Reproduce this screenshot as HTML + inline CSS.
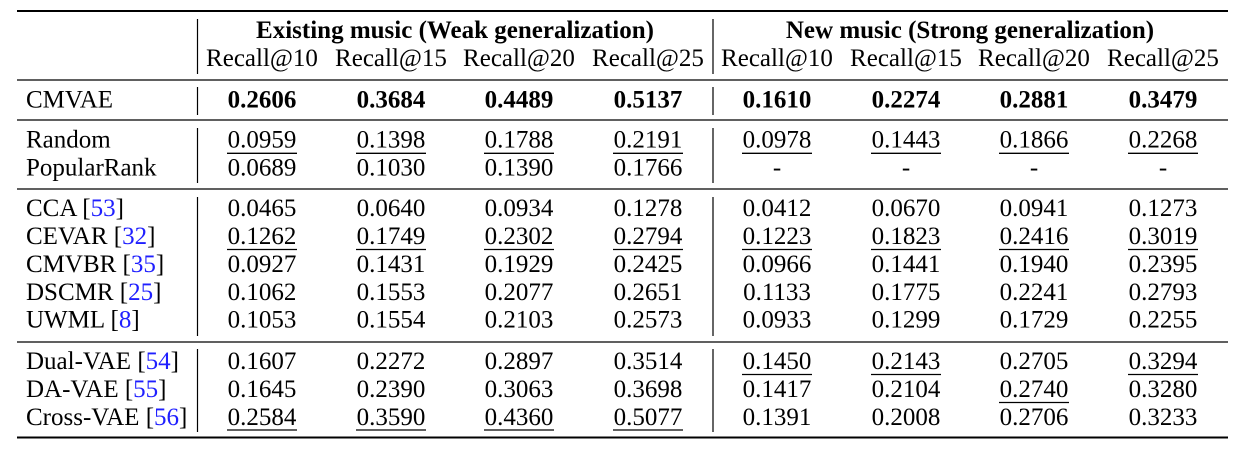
<!DOCTYPE html>
<html><head><meta charset="utf-8"><style>
html,body{margin:0;padding:0;background:#fff;}
svg{display:block;}
text{font-family:"Liberation Serif","Times New Roman",serif;font-size:25px;fill:#000;}
.b{font-weight:bold;}
.c{text-anchor:middle;}
.bl{fill:#1f1fff;}
</style></head><body>
<svg width="1240" height="450" viewBox="0 0 1240 450" xmlns="http://www.w3.org/2000/svg">
<g stroke="#000" fill="none">
<line x1="17" y1="11" x2="1228" y2="11" stroke-width="2"/>
<line x1="17" y1="80" x2="1228" y2="80" stroke-width="1.3"/>
<line x1="17" y1="120" x2="1228" y2="120" stroke-width="1.3"/>
<line x1="17" y1="189" x2="1228" y2="189" stroke-width="1.3"/>
<line x1="17" y1="342" x2="1228" y2="342" stroke-width="1.3"/>
<line x1="17" y1="437.5" x2="1228" y2="437.5" stroke-width="2"/>
<g stroke-width="1.2">
<line x1="197.5" y1="19" x2="197.5" y2="74"/><line x1="713" y1="19" x2="713" y2="74"/>
<line x1="197.5" y1="87" x2="197.5" y2="115"/><line x1="713" y1="87" x2="713" y2="115"/>
<line x1="197.5" y1="128" x2="197.5" y2="183"/><line x1="713" y1="128" x2="713" y2="183"/>
<line x1="197.5" y1="197" x2="197.5" y2="336"/><line x1="713" y1="197" x2="713" y2="336"/>
<line x1="197.5" y1="349" x2="197.5" y2="432"/><line x1="713" y1="349" x2="713" y2="432"/>
</g>
<g stroke-width="1.3">
<!-- Random -->
<line x1="227" y1="153.3" x2="297" y2="153.3"/><line x1="356" y1="153.3" x2="426" y2="153.3"/><line x1="484" y1="153.3" x2="554" y2="153.3"/><line x1="613" y1="153.3" x2="683" y2="153.3"/>
<line x1="742" y1="153.3" x2="812" y2="153.3"/><line x1="871" y1="153.3" x2="941" y2="153.3"/><line x1="999" y1="153.3" x2="1069" y2="153.3"/><line x1="1128" y1="153.3" x2="1198" y2="153.3"/>
<!-- CEVAR -->
<line x1="227" y1="249.5" x2="297" y2="249.5"/><line x1="356" y1="249.5" x2="426" y2="249.5"/><line x1="484" y1="249.5" x2="554" y2="249.5"/><line x1="613" y1="249.5" x2="683" y2="249.5"/>
<line x1="742" y1="249.5" x2="812" y2="249.5"/><line x1="871" y1="249.5" x2="941" y2="249.5"/><line x1="999" y1="249.5" x2="1069" y2="249.5"/><line x1="1128" y1="249.5" x2="1198" y2="249.5"/>
<!-- Dual-VAE -->
<line x1="742" y1="374.5" x2="812" y2="374.5"/><line x1="871" y1="374.5" x2="941" y2="374.5"/><line x1="1128" y1="374.5" x2="1198" y2="374.5"/>
<!-- DA-VAE -->
<line x1="999" y1="402.5" x2="1069" y2="402.5"/>
<!-- Cross-VAE -->
<line x1="227" y1="430" x2="297" y2="430"/><line x1="356" y1="430" x2="426" y2="430"/><line x1="484" y1="430" x2="554" y2="430"/><line x1="613" y1="430" x2="683" y2="430"/>
</g>
</g>

<text class="b c" x="455" y="38">Existing music (Weak generalization)</text>
<text class="b c" x="970" y="38">New music (Strong generalization)</text>
<text class="c" x="262" y="66">Recall@10</text><text class="c" x="391" y="66">Recall@15</text><text class="c" x="519" y="66">Recall@20</text><text class="c" x="648" y="66">Recall@25</text>
<text class="c" x="777" y="66">Recall@10</text><text class="c" x="906" y="66">Recall@15</text><text class="c" x="1034" y="66">Recall@20</text><text class="c" x="1163" y="66">Recall@25</text>

<text x="26" y="107.3">CMVAE</text>
<g class="b c">
<text class="b c" x="262" y="107.3">0.2606</text><text class="b c" x="391" y="107.3">0.3684</text><text class="b c" x="519" y="107.3">0.4489</text><text class="b c" x="648" y="107.3">0.5137</text>
<text class="b c" x="777" y="107.3">0.1610</text><text class="b c" x="906" y="107.3">0.2274</text><text class="b c" x="1034" y="107.3">0.2881</text><text class="b c" x="1163" y="107.3">0.3479</text>
</g>

<text x="26" y="147.5">Random</text>
<text class="c" x="262" y="147.5">0.0959</text><text class="c" x="391" y="147.5">0.1398</text><text class="c" x="519" y="147.5">0.1788</text><text class="c" x="648" y="147.5">0.2191</text>
<text class="c" x="777" y="147.5">0.0978</text><text class="c" x="906" y="147.5">0.1443</text><text class="c" x="1034" y="147.5">0.1866</text><text class="c" x="1163" y="147.5">0.2268</text>

<text x="26" y="175.7">PopularRank</text>
<text class="c" x="262" y="175.7">0.0689</text><text class="c" x="391" y="175.7">0.1030</text><text class="c" x="519" y="175.7">0.1390</text><text class="c" x="648" y="175.7">0.1766</text>
<text class="c" x="777" y="175.7">-</text><text class="c" x="906" y="175.7">-</text><text class="c" x="1034" y="175.7">-</text><text class="c" x="1163" y="175.7">-</text>

<text x="26" y="216">CCA [<tspan class="bl">53</tspan>]</text>
<text class="c" x="262" y="216">0.0465</text><text class="c" x="391" y="216">0.0640</text><text class="c" x="519" y="216">0.0934</text><text class="c" x="648" y="216">0.1278</text>
<text class="c" x="777" y="216">0.0412</text><text class="c" x="906" y="216">0.0670</text><text class="c" x="1034" y="216">0.0941</text><text class="c" x="1163" y="216">0.1273</text>

<text x="26" y="244">CEVAR [<tspan class="bl">32</tspan>]</text>
<text class="c" x="262" y="244">0.1262</text><text class="c" x="391" y="244">0.1749</text><text class="c" x="519" y="244">0.2302</text><text class="c" x="648" y="244">0.2794</text>
<text class="c" x="777" y="244">0.1223</text><text class="c" x="906" y="244">0.1823</text><text class="c" x="1034" y="244">0.2416</text><text class="c" x="1163" y="244">0.3019</text>

<text x="26" y="272">CMVBR [<tspan class="bl">35</tspan>]</text>
<text class="c" x="262" y="272">0.0927</text><text class="c" x="391" y="272">0.1431</text><text class="c" x="519" y="272">0.1929</text><text class="c" x="648" y="272">0.2425</text>
<text class="c" x="777" y="272">0.0966</text><text class="c" x="906" y="272">0.1441</text><text class="c" x="1034" y="272">0.1940</text><text class="c" x="1163" y="272">0.2395</text>

<text x="26" y="300">DSCMR [<tspan class="bl">25</tspan>]</text>
<text class="c" x="262" y="300">0.1062</text><text class="c" x="391" y="300">0.1553</text><text class="c" x="519" y="300">0.2077</text><text class="c" x="648" y="300">0.2651</text>
<text class="c" x="777" y="300">0.1133</text><text class="c" x="906" y="300">0.1775</text><text class="c" x="1034" y="300">0.2241</text><text class="c" x="1163" y="300">0.2793</text>

<text x="26" y="327.7">UWML [<tspan class="bl">8</tspan>]</text>
<text class="c" x="262" y="327.7">0.1053</text><text class="c" x="391" y="327.7">0.1554</text><text class="c" x="519" y="327.7">0.2103</text><text class="c" x="648" y="327.7">0.2573</text>
<text class="c" x="777" y="327.7">0.0933</text><text class="c" x="906" y="327.7">0.1299</text><text class="c" x="1034" y="327.7">0.1729</text><text class="c" x="1163" y="327.7">0.2255</text>

<text x="26" y="369">Dual-VAE [<tspan class="bl">54</tspan>]</text>
<text class="c" x="262" y="369">0.1607</text><text class="c" x="391" y="369">0.2272</text><text class="c" x="519" y="369">0.2897</text><text class="c" x="648" y="369">0.3514</text>
<text class="c" x="777" y="369">0.1450</text><text class="c" x="906" y="369">0.2143</text><text class="c" x="1034" y="369">0.2705</text><text class="c" x="1163" y="369">0.3294</text>

<text x="26" y="397">DA-VAE [<tspan class="bl">55</tspan>]</text>
<text class="c" x="262" y="397">0.1645</text><text class="c" x="391" y="397">0.2390</text><text class="c" x="519" y="397">0.3063</text><text class="c" x="648" y="397">0.3698</text>
<text class="c" x="777" y="397">0.1417</text><text class="c" x="906" y="397">0.2104</text><text class="c" x="1034" y="397">0.2740</text><text class="c" x="1163" y="397">0.3280</text>

<text x="26" y="425">Cross-VAE [<tspan class="bl">56</tspan>]</text>
<text class="c" x="262" y="425">0.2584</text><text class="c" x="391" y="425">0.3590</text><text class="c" x="519" y="425">0.4360</text><text class="c" x="648" y="425">0.5077</text>
<text class="c" x="777" y="425">0.1391</text><text class="c" x="906" y="425">0.2008</text><text class="c" x="1034" y="425">0.2706</text><text class="c" x="1163" y="425">0.3233</text>
</svg>
</body></html>
